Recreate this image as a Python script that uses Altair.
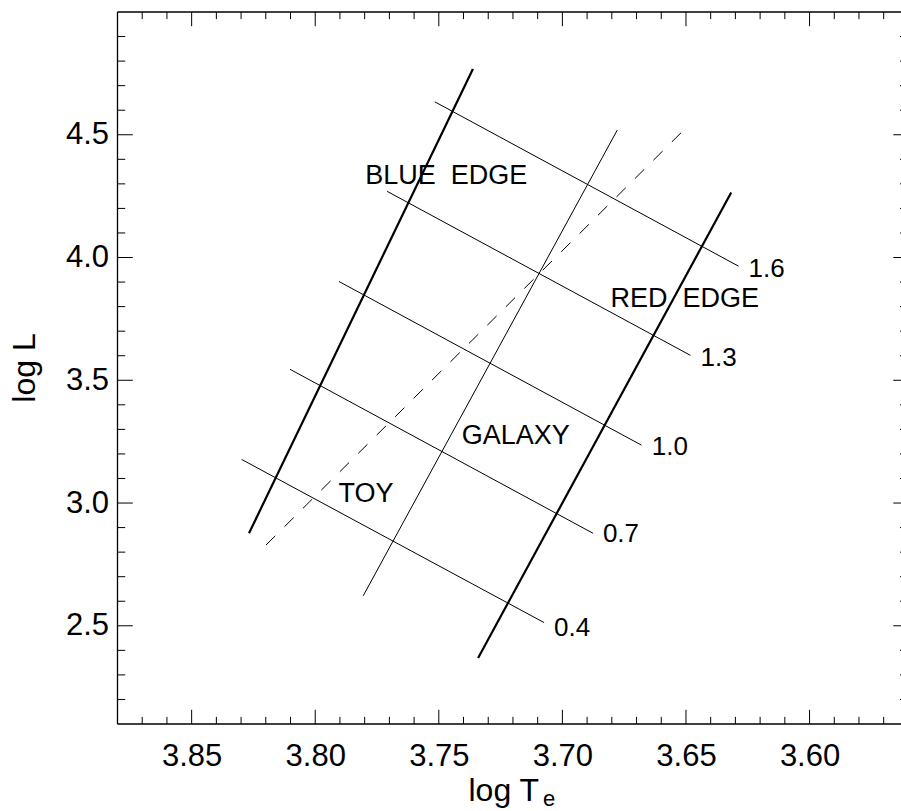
import altair as alt
import pandas as pd

# ---------------- data ----------------
x_domain = [3.563, 3.88]          # log Te, drawn reversed
y_domain = [2.1, 5.0]             # log L

x_major = [3.85, 3.80, 3.75, 3.70, 3.65, 3.60]
x_minor = [3.87, 3.86, 3.84, 3.83, 3.82, 3.81, 3.79, 3.78, 3.77, 3.76,
           3.74, 3.73, 3.72, 3.71, 3.69, 3.68, 3.67, 3.66, 3.64, 3.63,
           3.62, 3.61, 3.59, 3.58, 3.57]
y_major = [2.5, 3.0, 3.5, 4.0, 4.5]
y_minor = [2.2, 2.3, 2.4, 2.6, 2.7, 2.8, 2.9, 3.1, 3.2, 3.3, 3.4, 3.6,
           3.7, 3.8, 3.9, 4.1, 4.2, 4.3, 4.4, 4.6, 4.7, 4.8, 4.9]

# instability strip edges (thick)
edge_names = ["blue edge", "red edge"]
edge_x1 = [3.8268, 3.7341]
edge_y1 = [2.877, 2.369]
edge_x2 = [3.7362, 3.6317]
edge_y2 = [4.768, 4.265]

# thin solid (galaxy) and dashed (toy) relations
mid_x1 = [3.7806]
mid_y1 = [2.622]
mid_x2 = [3.6778]
mid_y2 = [4.519]
dash_x1 = [3.8199]
dash_y1 = [2.829]
dash_x2 = [3.6509]
dash_y2 = [4.519]

# constant-period lines
period_labels = ["0.4", "0.7", "1.0", "1.3", "1.6"]
period_x1 = [3.8298, 3.8102, 3.7904, 3.7709, 3.7516]
period_y1 = [3.1777, 3.5447, 3.9024, 4.2695, 4.634]
period_x2 = [3.7074, 3.6876, 3.6680, 3.6482, 3.6287]
period_y2 = [2.513, 2.8768, 3.2358, 3.6016, 3.9646]
period_lx = [3.7030, 3.6832, 3.6634, 3.6437, 3.6243]
period_ly = [2.496, 2.878, 3.233, 3.5988, 3.9606]

word_labels = ["BLUE\u00a0 EDGE", "RED\u00a0 EDGE", "GALAXY", "TOY"]
word_x = [3.7792, 3.6799, 3.7401, 3.7900]
word_y = [4.337, 3.8354, 3.2805, 3.0419]

# ---------------- layout ----------------
W = 783.5
H = 712
FONT = "Liberation Sans"
XT_MAJ, XT_MIN = 14.2, 7.1
YT_MAJ, YT_MIN = 15.3, 7.7
RIGHT_EDGE = 791.1   # true right frame position (outside the picture)

xscale = alt.Scale(domain=x_domain, reverse=True, nice=False, zero=False)
yscale = alt.Scale(domain=y_domain, nice=False, zero=False)

xaxis = alt.Axis(values=x_major, format=".2f", title=None, domain=False,
                 ticks=False, tickSize=0, grid=False, labelFontSize=31,
                 labelFont=FONT, labelColor="black", labelPadding=17,
                 labelFlush=False, labelOverlap=False)
yaxis = alt.Axis(values=y_major, format=".1f", title=None, domain=False,
                 ticks=False, tickSize=0, grid=False, labelFontSize=31,
                 labelFont=FONT, labelColor="black", labelPadding=9,
                 labelFlush=False, labelOverlap=False)


def X(f):
    return alt.X(f, type="quantitative", scale=xscale, axis=xaxis)


def Y(f):
    return alt.Y(f, type="quantitative", scale=yscale, axis=yaxis)


edges = pd.DataFrame({"name": edge_names, "x1": edge_x1, "y1": edge_y1,
                      "x2": edge_x2, "y2": edge_y2})
mid = pd.DataFrame({"x1": mid_x1, "y1": mid_y1, "x2": mid_x2, "y2": mid_y2})
dash = pd.DataFrame({"x1": dash_x1, "y1": dash_y1, "x2": dash_x2, "y2": dash_y2})
periods = pd.DataFrame({"p": period_labels, "x1": period_x1, "y1": period_y1,
                        "x2": period_x2, "y2": period_y2,
                        "lx": period_lx, "ly": period_ly})
words = pd.DataFrame({"t": word_labels, "x": word_x, "y": word_y})

edge_layer = alt.Chart(edges).mark_rule(color="black", strokeWidth=2.2).encode(
    x=X("x1"), y=Y("y1"), x2="x2:Q", y2="y2:Q")
mid_layer = alt.Chart(mid).mark_rule(color="black", strokeWidth=1).encode(
    x=X("x1"), y=Y("y1"), x2="x2:Q", y2="y2:Q")
dash_layer = alt.Chart(dash).mark_rule(color="black", strokeWidth=1,
                                       strokeDash=[13, 13]).encode(
    x=X("x1"), y=Y("y1"), x2="x2:Q", y2="y2:Q")
period_layer = alt.Chart(periods).mark_rule(color="black", strokeWidth=1).encode(
    x=X("x1"), y=Y("y1"), x2="x2:Q", y2="y2:Q")
period_text = alt.Chart(periods).mark_text(
    align="left", baseline="middle", fontSize=26, font=FONT, color="black",
    dx=-1, dy=1.5).encode(x=X("lx"), y=Y("ly"), text="p:N")
word_text = alt.Chart(words).mark_text(
    align="left", baseline="middle", fontSize=27, font=FONT, color="black",
    dx=-1.5, dy=1.5).encode(x=X("x"), y=Y("y"), text="t:N")

# frame (left, top, bottom; right edge lies outside the picture)
frame_l = alt.Chart(pd.DataFrame({"a": [0]})).mark_rule(color="black", strokeWidth=1.3).encode(
    x=alt.value(0), y=alt.value(0), y2=alt.value(H))
frame_t = alt.Chart(pd.DataFrame({"a": [0]})).mark_rule(color="black", strokeWidth=1.3).encode(
    x=alt.value(0), x2=alt.value(W), y=alt.value(0))
frame_b = alt.Chart(pd.DataFrame({"a": [0]})).mark_rule(color="black", strokeWidth=1.3).encode(
    x=alt.value(0), x2=alt.value(W), y=alt.value(H))

xmaj = pd.DataFrame({"v": x_major})
xmin = pd.DataFrame({"v": x_minor})
ymaj = pd.DataFrame({"v": y_major})
ymin = pd.DataFrame({"v": y_minor})

tick = dict(color="black", strokeWidth=1)
ticks = [
    alt.Chart(xmaj).mark_rule(**tick).encode(x=X("v"), y=alt.value(H), y2=alt.value(H - XT_MAJ)),
    alt.Chart(xmin).mark_rule(**tick).encode(x=X("v"), y=alt.value(H), y2=alt.value(H - XT_MIN)),
    alt.Chart(xmaj).mark_rule(**tick).encode(x=X("v"), y=alt.value(0), y2=alt.value(XT_MAJ)),
    alt.Chart(xmin).mark_rule(**tick).encode(x=X("v"), y=alt.value(0), y2=alt.value(XT_MIN)),
    alt.Chart(ymaj).mark_rule(**tick).encode(y=Y("v"), x=alt.value(0), x2=alt.value(YT_MAJ)),
    alt.Chart(ymin).mark_rule(**tick).encode(y=Y("v"), x=alt.value(0), x2=alt.value(YT_MIN)),
    alt.Chart(ymaj).mark_rule(**tick).encode(y=Y("v"), x=alt.value(RIGHT_EDGE - YT_MAJ), x2=alt.value(W)),
    alt.Chart(ymin).mark_rule(**tick).encode(y=Y("v"), x=alt.value(W - 1.0), x2=alt.value(W)),
]

ytitle = alt.Chart(pd.DataFrame({"t": ["log L"]})).mark_text(
    align="center", baseline="middle", angle=270, fontSize=32, font=FONT,
    color="black").encode(x=alt.value(-93), y=alt.value(356), text="t:N")
xtitle = alt.Chart(pd.DataFrame({"t": ["log T"]})).mark_text(
    align="left", baseline="alphabetic", fontSize=32, font=FONT,
    color="black").encode(x=alt.value(351), y=alt.value(789), text="t:N")
xsub = alt.Chart(pd.DataFrame({"t": ["e"]})).mark_text(
    align="left", baseline="alphabetic", fontSize=22, font=FONT,
    color="black").encode(x=alt.value(425.5), y=alt.value(794), text="t:N")

chart = alt.layer(
    edge_layer, mid_layer, dash_layer, period_layer, period_text, word_text,
    frame_l, frame_t, frame_b, *ticks, ytitle, xtitle, xsub
).properties(
    width=W, height=H,
    padding={"left": 117.5, "top": 12, "right": 0, "bottom": 87},
    autosize=alt.AutoSizeParams(type="none"),
    background="white",
).configure_view(stroke=None)

chart.save("out.html", embed_options={"renderer": "svg", "actions": False})
